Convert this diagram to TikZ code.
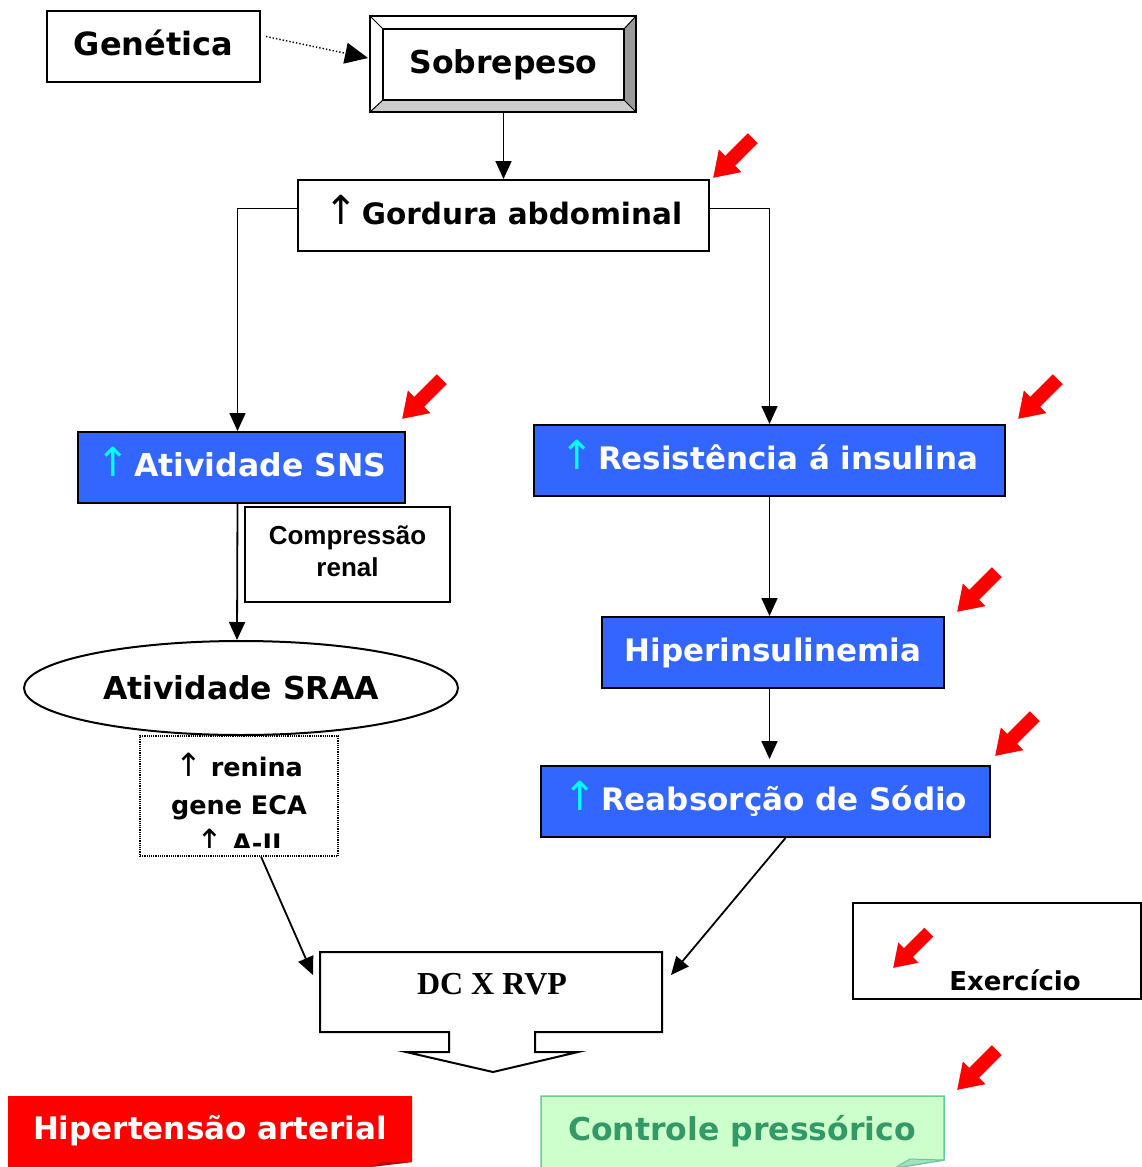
\documentclass[tikz,border=0pt]{standalone}
\usepackage{fontspec}
\setmainfont{DejaVu Sans}
\newfontfamily\arialbold{Liberation Sans}
\newfontfamily\timesbold{Liberation Serif}
\usetikzlibrary{
  arrows.meta,
  shapes.geometric
}
\definecolor{boxblue}{RGB}{51,102,255}
\definecolor{upcyan}{RGB}{0,255,255}
\definecolor{alarmred}{RGB}{255,0,0}
\definecolor{foldred}{RGB}{190,0,0}
\definecolor{mint}{RGB}{204,255,204}
\definecolor{mintline}{RGB}{102,204,153}
\definecolor{leafgreen}{RGB}{51,153,102}
\definecolor{bevelgray}{RGB}{153,153,153}
\definecolor{bevellight}{RGB}{204,204,204}
\newcommand{\redarrow}[2][1]{\fill[alarmred,shift={(#2)},rotate=225,scale=#1] (-28,-7)--(4,-7)--(4,-16)--(28,0)--(4,16)--(4,7)--(-28,7)--cycle;}
\newcommand{\uparr}{{\mdseries\fontsize{40}{40}\selectfont ↑}\hspace{0.12em}}

\begin{document}
\begin{tikzpicture}[x=1pt,y=-1pt,
  plainbox/.style={draw=black, line width=2pt, fill=white, inner sep=0pt, text height=23pt, text depth=6pt, font=\bfseries\fontsize{31.5}{36}\selectfont},
  bluebox/.style={draw=black, line width=2pt, fill=boxblue, text=white, inner sep=0pt, text height=23pt, text depth=6pt, font=\bfseries\fontsize{31}{36}\selectfont},
  conn/.style={-{Triangle[length=18pt,width=16pt]}, line width=1.8pt}
]
\useasboundingbox (0,0) rectangle (1142,1167);

% top: genetica and sobrepeso frame
\node[plainbox, minimum width=213, minimum height=71, font=\bfseries\fontsize{32}{36}\selectfont] (gen) at (153.5,46.5) {Genética};
\fill[white] (370,16) rectangle (636,112);
\fill[bevelgray] (636,16)--(624,29)--(624,100)--(636,112)--cycle;
\fill[bevellight] (370,112)--(383,100)--(624,100)--(636,112)--cycle;
\draw[line width=1.5pt] (370,16) rectangle (636,112);
\draw[line width=1pt] (370,16)--(383,29) (636,16)--(624,29) (370,112)--(383,100) (636,112)--(624,100);
\node[plainbox, minimum width=241, minimum height=71] (sobre) at (503.5,64.5) {Sobrepeso};
\coordinate (frameW) at (368,58);
\draw[dotted, line width=1.4pt, -{Triangle[length=23pt,width=21pt]}] ([xshift=5pt,yshift=10pt]gen.east) -- (frameW);

\node[plainbox, minimum width=411, minimum height=71, font=\bfseries\fontsize{29.5}{34}\selectfont] (gord) at (503.5,215.5) {\uparr Gordura abdominal};
\draw[conn] ([yshift=-12pt]sobre.south) -- (gord.north);

% left branch
\node[bluebox, minimum width=327, minimum height=71, font=\bfseries\fontsize{31.5}{36}\selectfont] (sns) at (241.5,467.5) {{\color{upcyan}\uparr}Atividade SNS};
\node[draw, line width=2pt, fill=white, minimum width=205, minimum height=95, inner sep=0pt, font=\arialbold\bfseries\fontsize{26}{32}\selectfont] (comp) at (347.5,554.5) {\raisebox{9pt}{\begin{tabular}{@{}c@{}}Compressão\\renal\end{tabular}}};
\node[draw, ellipse, line width=2pt, inner sep=0pt, minimum width=434, minimum height=94, font=\bfseries\fontsize{31.5}{36}\selectfont] (sraa) at (241,688) {Atividade SRAA};
\node[draw, densely dotted, line width=1.2pt, minimum width=198, minimum height=120, inner sep=0pt] (raas) at (239,796) {};
\begin{scope}
\clip (140,736) rectangle (338,847);
\node[align=center, inner sep=0pt, font=\bfseries\fontsize{25.5}{38}\selectfont] (raastxt) at (239,803) {{\mdseries\fontsize{32}{38}\selectfont ↑} renina\\gene ECA\\{\mdseries\fontsize{32}{38}\selectfont ↑} A-II};
\end{scope}

\draw[conn] ([yshift=7pt]gord.west) -| ([xshift=-4pt]sns.north);
\draw[conn] ([xshift=-4pt]sns.south) -- ([xshift=-4pt]sraa.north);

% right branch
\node[bluebox, minimum width=471, minimum height=71] (res) at (769.5,460.5) {{\color{upcyan}\uparr}Resistência á insulina};
\node[bluebox, minimum width=342, minimum height=71] (hip) at (773,652.5) {Hiperinsulinemia};
\node[bluebox, minimum width=449, minimum height=71] (reab) at (765.5,801.5) {{\color{upcyan}\uparr}Reabsorção de Sódio};

\draw[conn] ([yshift=7pt]gord.east) -| (res.north);
\draw[conn] (res.south) -- (res.south |- hip.north);
\draw[conn] (hip.south -| res.south) -- ([yshift=6pt]res.south |- reab.north);

% DC X RVP callout
\draw[line width=2pt, fill=white] (320,952) -- (662,952) -- (662,1032) -- (535,1032) -- (535,1052) -- (578,1052) -- (493,1072) -- (406,1052) -- (449,1052) -- (449,1032) -- (320,1032) -- cycle;
\node[font=\timesbold\bfseries\fontsize{32}{36}\selectfont] (dc) at (492,984) {DC X RVP};
\coordinate (dcL) at (313,975);
\coordinate (dcR) at (671,975);
\draw[conn] ([xshift=22pt]raas.south) -- (dcL);
\draw[conn] ([xshift=20pt]reab.south) -- (dcR);

% exercicio
\node[draw, line width=2pt, minimum width=288, minimum height=96, inner sep=0pt] (exer) at (997,951) {};
\node[font=\bfseries\fontsize{26}{32}\selectfont] (exertxt) at (1015,980) {Exercício};

% bottom results
\fill[alarmred] (8,1096) -- (412,1096) -- (412,1162) -- (370,1167) -- (8,1167) -- cycle;
\fill[foldred] (370,1167) -- (412,1162) -- (382,1162) -- cycle;
\node[text=white, font=\bfseries\fontsize{31}{36}\selectfont] (hta) at (210,1131) {Hipertensão arterial};
\filldraw[fill=mint, draw=mintline, line width=1.5pt] (541,1168) -- (541,1096) -- (944,1096) -- (944,1160) -- (895,1168);
\filldraw[fill=mintline!60, draw=mintline, line width=1pt] (895,1168) -- (910,1159) -- (944,1160) -- cycle;
\node[text=leafgreen, font=\bfseries\fontsize{31.5}{36}\selectfont] (ctrl) at (742,1131) {Controle pressórico};

% red arrows
\redarrow{733,158}
\redarrow{422,399}
\redarrow{1038,399}
\redarrow{977,592}
\redarrow{1015,736}
\redarrow{977,1070}
\redarrow[0.9]{911,950}
\end{tikzpicture}
\end{document}
